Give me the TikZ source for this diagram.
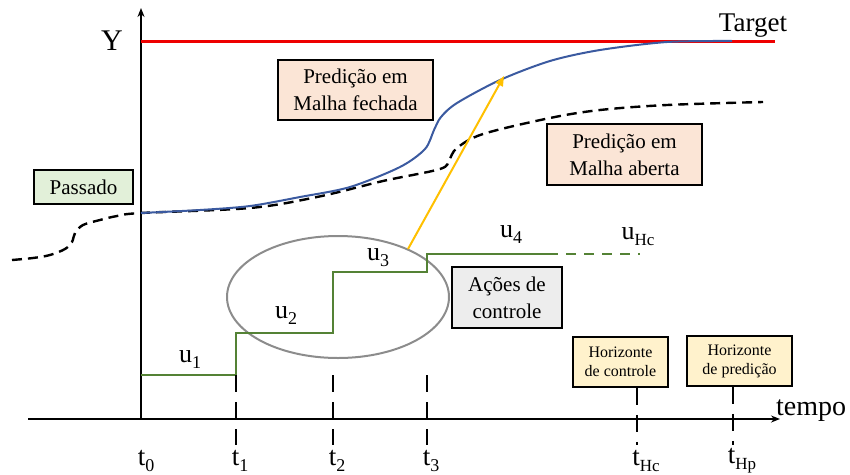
\documentclass[tikz,border=0pt]{standalone}
\usepackage{fontspec}
\setmainfont{Liberation Serif}
\usetikzlibrary{arrows.meta}
\definecolor{tgtred}{RGB}{238,0,0}
\definecolor{cblue}{RGB}{59,90,160}
\definecolor{cgreen}{RGB}{84,130,53}
\definecolor{cyellow}{RGB}{255,192,0}
\definecolor{cgray}{RGB}{140,140,140}
\definecolor{fgreen}{RGB}{226,240,217}
\definecolor{fpeach}{RGB}{251,229,214}
\definecolor{fgray}{RGB}{237,237,237}
\definecolor{fyellow}{RGB}{255,242,204}
\newcommand\lowsub[1]{\raisebox{-0.5ex}{\fontsize{18}{18}\selectfont #1}}
\newcommand\lowsubs[1]{\raisebox{-0.5ex}{\fontsize{17}{17}\selectfont #1}}
\tikzset{
  axisline/.style={line width=2pt,-{Stealth[length=9pt,width=7pt]}},
  labelbox/.style={draw=black,line width=1.6pt,align=center,inner sep=0pt,
     font=\rmfamily\fontsize{21}{27}\selectfont},
  smallbox/.style={draw=black,line width=1.6pt,align=center,inner sep=0pt,
     fill=fyellow,font=\rmfamily\fontsize{16}{19}\selectfont},
  ulabel/.style={font=\fontsize{26}{26}\selectfont,inner sep=0pt},
  tlabel/.style={font=\fontsize{27}{27}\selectfont,inner sep=0pt},
  tickline/.style={line width=1.8pt,dash pattern=on 17pt off 10pt},
  stepline/.style={line width=2.4pt,cgreen},
}
\begin{document}
\begin{tikzpicture}[x=1pt,y=-1pt]
\path[use as bounding box] (0,0) rectangle (850,474);

% axes
\coordinate (xs) at (28,419);
\coordinate (xe) at (780,419);
\coordinate (t0) at (141,419);
\coordinate (ytop) at (141,8);
\draw[axisline] (xs) -- (xe);
\draw[axisline] (t0) -- (ytop);
\node[font=\fontsize{28}{28}\selectfont,anchor=west,inner sep=0pt] (tempo) at (776,411) {tempo};
\node[font=\fontsize{30}{30}\selectfont,inner sep=0pt] (Y) at (112,41) {Y};

% target
\coordinate (ta) at (141,41);
\coordinate (tb) at (775,41);
\draw[tgtred,line width=3pt] (ta) -- (tb);
\node[font=\fontsize{27}{27}\selectfont,inner sep=0pt] (target) at (753,26) {Target};

% open-loop dashed curve
\draw[line width=2.4pt,dash pattern=on 10pt off 6pt] plot[smooth,tension=0.55] coordinates {
 (12,260) (33,258) (50,255) (65,249) (72,242) (75,233) (83,225) (100,220) (117,216) (141,213)
 (250,208) (317,197) (383,181) (440,169) (449,160) (457,148) (483,134) (550,118) (600,110) (667,105) (763,102)};

% closed-loop blue curve
\draw[cblue,line width=2pt] plot[smooth,tension=0.5] coordinates {
 (141,213) (200,210) (250,206) (300,197) (350,187) (400,167) (425,149) (434,130) (441,117) (457,103)
 (500,80) (550,61) (600,50) (667,42) (732,41)};

% ellipse
\coordinate (ec) at (338,297);
\draw[cgray,line width=2pt] (ec) ellipse [x radius=111,y radius=61];

% steps
\coordinate (s0) at (141,375);
\coordinate (s1) at (236,375);
\coordinate (s2) at (236,333);
\coordinate (s3) at (333,333);
\coordinate (s4) at (333,272);
\coordinate (s5) at (427,272);
\coordinate (s6) at (427,254);
\coordinate (s7) at (548,254);
\coordinate (s8) at (640,254);
\draw[stepline] (s0) -- (s1) -- (s2) -- (s3) -- (s4) -- (s5) -- (s6) -- (s7);
\draw[stepline,dash pattern=on 10pt off 8pt] (s7) -- (s8);

% yellow arrow
\coordinate (ya) at (408,249);
\coordinate (yb) at (504,76);
\draw[cyellow,line width=2pt,-{Triangle[length=10pt,width=8pt]}] (ya) -- (yb);

% u labels
\node[ulabel] (u1) at (190,360) {u\lowsub{1}};
\node[ulabel] (u2) at (286,316) {u\lowsub{2}};
\node[ulabel] (u3) at (378,258) {u\lowsub{3}};
\node[ulabel] (u4) at (511,235) {u\lowsub{4}};
\node[ulabel] (uHc) at (638,237) {u\lowsubs{Hc}};

% ticks
\coordinate (k1a) at (236,375); \coordinate (k1b) at (236,445);
\coordinate (k2a) at (333,375); \coordinate (k2b) at (333,445);
\coordinate (k3a) at (427,375); \coordinate (k3b) at (427,445);
\draw[tickline] (k1a) -- (k1b);
\draw[tickline] (k2a) -- (k2b);
\draw[tickline] (k3a) -- (k3b);

% boxes
\node[labelbox,fill=fgreen,minimum width=99pt,minimum height=34pt] (passado) at (83.5,187) {Passado};
\node[labelbox,fill=fpeach,minimum width=155pt,minimum height=60pt] (fechada) at (355.5,90) {Predição em\\Malha fechada};
\node[labelbox,fill=fpeach,minimum width=155pt,minimum height=61pt] (aberta) at (624.5,154.5) {Predição em\\Malha aberta};
\node[labelbox,fill=fgray,minimum width=110pt,minimum height=61pt] (acoes) at (507,297.5) {Ações de\\controle};
\node[smallbox,minimum width=95pt,minimum height=50pt] (hc) at (620.5,362) {Horizonte\\de controle};
\node[smallbox,minimum width=105pt,minimum height=50pt] (hp) at (739.5,361) {Horizonte\\de predição};

\coordinate (kc) at (637,445);
\coordinate (kp) at (733,445);
\draw[tickline] ([xshift=16.5pt]hc.south) -- (kc);
\draw[tickline] ([xshift=-6.5pt]hp.south) -- (kp);

% t labels
\node[tlabel] (lt0) at (146,461) {t\lowsub{0}};
\node[tlabel] (lt1) at (240,461) {t\lowsub{1}};
\node[tlabel] (lt2) at (337,461) {t\lowsub{2}};
\node[tlabel] (lt3) at (431,461) {t\lowsub{3}};
\node[tlabel] (ltc) at (646,461) {t\lowsubs{Hc}};
\node[tlabel] (ltp) at (742,461) {t\lowsubs{Hp}};
\end{tikzpicture}
\end{document}
